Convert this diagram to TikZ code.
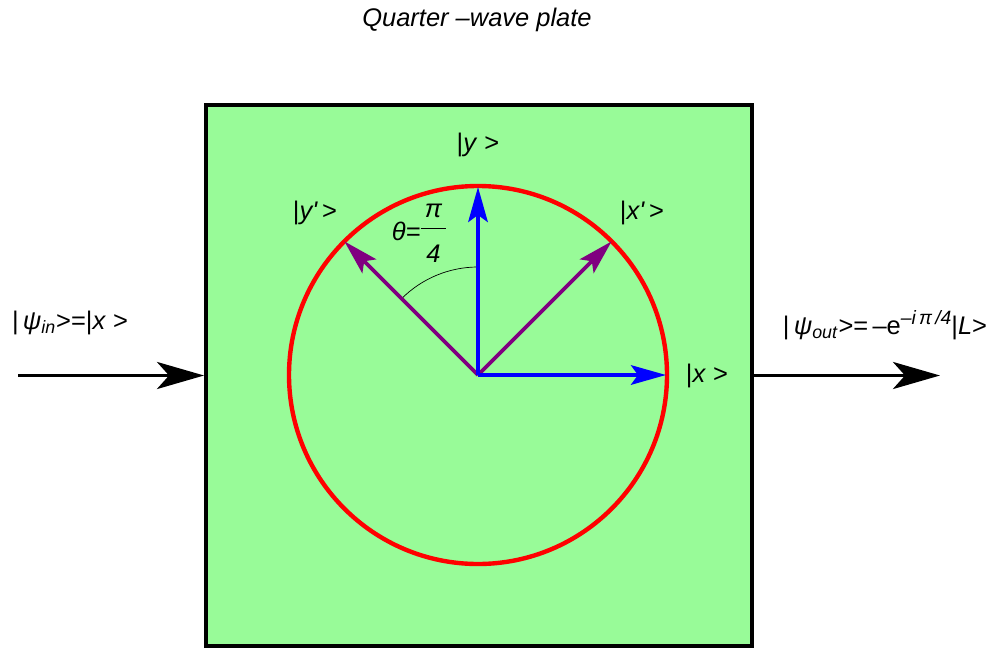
\documentclass[tikz,border=0pt]{standalone}
\usepackage{fontspec}
\setmainfont{Liberation Sans}
\usetikzlibrary{arrows.meta, positioning}
\definecolor{platefill}{RGB}{152,251,152}
\definecolor{axisblue}{RGB}{0,0,255}
\definecolor{rotpurple}{RGB}{128,0,128}
\newcommand{\sprime}{\textquotesingle}
\newcommand{\upper}[1]{\raisebox{6pt}{\fontsize{11}{13}\selectfont #1}}
\tikzset{
  plate/.style = {draw=black, line width=2.3pt, fill=platefill, inner sep=0pt,
                  minimum width=10.92cm, minimum height=10.82cm},
  beam/.style  = {-{Stealth[length=9.4mm, width=5.4mm, inset=2.4mm]}, line width=2.2pt},
  axis/.style  = {-{Stealth[length=7mm, width=3.9mm, inset=1.4mm]}, line width=2.2pt, draw=axisblue},
  rot/.style   = {axis, draw=rotpurple},
  lbl/.style   = {font=\fontsize{14.5}{17}\selectfont, inner sep=1pt},
}

\begin{document}
\begin{tikzpicture}[x=0.02cm, y=0.02cm]
  \useasboundingbox (0,0) rectangle (998,647);
  \node[lbl] (title) at (477,627) {\itshape Quarter –wave plate};

  % the plate
  \node[plate] (plate) at (479,271.5) {};
  \coordinate (o) at (478,272);
  \draw[red, line width=2.5pt] (o) circle[radius=189];
  \draw[thin] (478,380) arc[start angle=90, end angle=135, radius=108];

  % rotated and fixed axes
  \coordinate (yptip) at (344.4,405.6);
  \coordinate (xptip) at (611.6,405.6);
  \coordinate (ytip) at (478,460);
  \coordinate (xtip) at (666,272);
  \draw[rot] (o) -- (yptip);
  \draw[rot] (o) -- (xptip);
  \draw[axis] (o) -- (ytip);
  \draw[axis] (o) -- (xtip);

  \node[lbl] (ylbl) at (478,502) {|\textit{y} >};
  \node[lbl] (yplbl) at (315,434) {|\textit{y\sprime}\,>};
  \node[lbl] (xplbl) at (642,434) {|\textit{x\sprime}\,>};
  \node[lbl] (xlbl) at (707,271) {|\textit{x} >};
  \node[lbl] (theta) at (419,413) {\textit{θ=}\begin{tabular}[c]{@{\,}c@{\,}}\itshape π\\[1pt]\hline
    \rule{0pt}{19pt}\itshape 4\end{tabular}};

  % beam in and out
  \coordinate (src) at (18,271.5);
  \coordinate (dst) at (940,271.5);
  \draw[beam] (src) -- (plate.west);
  \draw[beam] (plate.east) -- (dst);
  \node[lbl] (inlbl) at (70,324) {|\,\textit{ψ}\textsubscript{\textit{in}}>=|\textit{x} >};
  \node[lbl] (outlbl) at (885,322) {|\,\textit{ψ}\textsubscript{\textit{out}}>=\,–e\upper{\textit{–i\,π\,/4}}|\textit{L}>};
\end{tikzpicture}
\end{document}
